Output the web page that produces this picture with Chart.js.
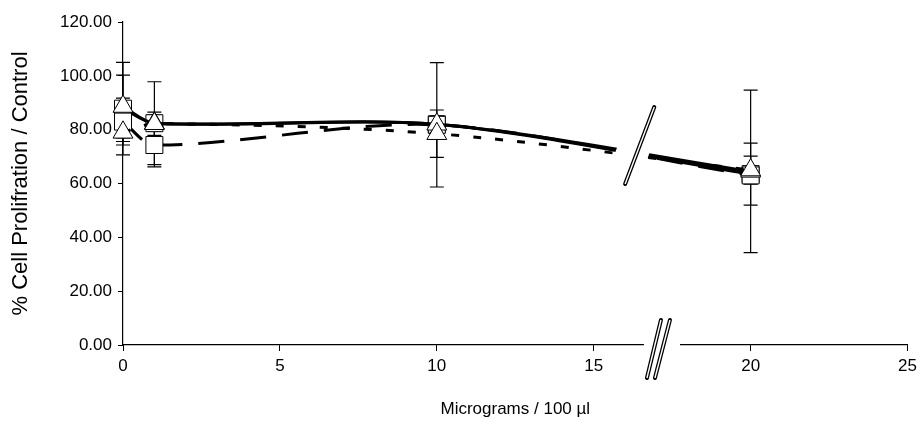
<!DOCTYPE html>
<html>
<head>
<meta charset="utf-8">
<script src="https://cdn.jsdelivr.net/npm/chart.js@4.4.0/dist/chart.umd.min.js"></script>
<style>
    html, body { margin: 0; padding: 0; background: #fff; }
    #wrap { width: 922px; height: 424px; }
</style>
</head>
<body>
<div id="wrap"><canvas id="chart" width="922" height="424"></canvas></div>
<script>
// Doses (x) and the four measured series, with their error values
const doses = [0, 1, 10, 20];
const xTicks = [0, 5, 10, 15, 20, 25];
const yTicks = [0, 20, 40, 60, 80, 100, 120];

const shortDashValues = [79.0, 82.2, 78.5, 65.0];
const shortDashErrors = [3.4, 4.3, 8.8, 5.2];
const solidTriValues = [88.6, 82.4, 82.0, 64.5];
const solidTriErrors = [11.7, 15.4, 3.0, 30.2];
const longDashValues = [83.0, 74.3, 81.8, 63.0];
const longDashErrors = [8.7, 8.1, 23.1, 3.0];
const solidSqValues = [87.8, 82.4, 82.0, 63.5];
const solidSqErrors = [17.2, 3.0, 3.0, 11.5];

// where the axis is broken (between 15 and 20)
const breakFrom = 15.7;
const breakTo = 16.8;

const FONT = 'Liberation Sans, Arial, sans-serif';

function points(values) {
    return values.map((v, i) => ({ x: doses[i], y: v }));
}

function series(label, values, errors, style, dash) {
    return {
        label: label,
        data: points(values),
        errors: errors,
        clip: false,
        borderColor: '#000',
        borderWidth: 3,
        borderDash: dash,
        tension: 0.3,
        pointStyle: style,
        pointRadius: style === 'rect' ? 12 : 11.5,
        pointBackgroundColor: '#fff',
        pointBorderColor: '#000',
        pointBorderWidth: 1,
        fill: false
    };
}

// Error bars drawn under the lines and markers
const errorBars = {
    id: 'errorBars',
    beforeDatasetsDraw(chart) {
        const { ctx, scales: { x, y } } = chart;
        ctx.save();
        ctx.strokeStyle = '#000';
        ctx.lineWidth = 1.2;
        chart.data.datasets.forEach(ds => {
            ds.data.forEach((p, i) => {
                const err = ds.errors[i];
                const px = x.getPixelForValue(p.x);
                const top = y.getPixelForValue(p.y + err);
                const bot = y.getPixelForValue(p.y - err);
                ctx.beginPath();
                ctx.moveTo(px, top); ctx.lineTo(px, bot);
                ctx.moveTo(px - 7, top); ctx.lineTo(px + 7, top);
                ctx.moveTo(px - 7, bot); ctx.lineTo(px + 7, bot);
                ctx.stroke();
            });
        });
        ctx.restore();
    }
};

function slash(ctx, x1, y1, x2, y2) {
    ctx.lineCap = 'round';
    ctx.strokeStyle = '#000';
    ctx.lineWidth = 4;
    ctx.beginPath(); ctx.moveTo(x1, y1); ctx.lineTo(x2, y2); ctx.stroke();
    ctx.lineCap = 'butt';
    ctx.strokeStyle = '#fff';
    ctx.lineWidth = 1.4;
    ctx.beginPath(); ctx.moveTo(x1, y1); ctx.lineTo(x2, y2); ctx.stroke();
}

// Break marks: gap in the curves and on the x axis
const axisBreak = {
    id: 'axisBreak',
    afterDatasetsDraw(chart) {
        const { ctx, scales: { x, y } } = chart;
        const bx = x.getPixelForValue(16.0), by = y.getPixelForValue(59.8);
        const tx = x.getPixelForValue(16.93), ty = y.getPixelForValue(88.4);
        const left = x.getPixelForValue(breakFrom), right = x.getPixelForValue(breakTo);
        const mid = (left + right) / 2;
        const half = (right - left) / 2;
        ctx.save();
        ctx.fillStyle = '#fff';
        const sx = (tx - bx) / (ty - by);
        const yc = y.getPixelForValue(72);
        const cx = bx + (yc - by) * sx;
        const shift = cx - mid;
        ctx.beginPath();
        ctx.moveTo(bx - half - shift, by);
        ctx.lineTo(tx - half - shift, ty);
        ctx.lineTo(tx + half - shift, ty);
        ctx.lineTo(bx + half - shift, by);
        ctx.closePath();
        ctx.fill();
        slash(ctx, bx, by, tx, ty);
        ctx.restore();
    },
    afterDraw(chart) {
        const { ctx, scales: { x, y } } = chart;
        const base = y.bottom;
        const gl = x.getPixelForValue(16.6), gr = x.getPixelForValue(17.75);
        ctx.save();
        ctx.fillStyle = '#fff';
        ctx.fillRect(gl, base - 3, gr - gl, 6);
        slash(ctx, gl + 3, base + 33, gl + 17, base - 25);
        slash(ctx, gl + 11, base + 33, gl + 26, base - 25);
        ctx.restore();
    }
};

new Chart(document.getElementById('chart'), {
    type: 'line',
    data: {
        datasets: [
            series('Short dash', shortDashValues, shortDashErrors, 'triangle', [8, 14]),
            series('Solid (triangles)', solidTriValues, solidTriErrors, 'triangle', []),
            series('Long dash', longDashValues, longDashErrors, 'rect', [26, 16]),
            series('Solid (squares)', solidSqValues, solidSqErrors, 'rect', [])
        ]
    },
    options: {
        responsive: false,
        animation: false,
        layout: { padding: { top: 22, right: 13, bottom: 0, left: 0 } },
        plugins: {
            legend: { display: false },
            tooltip: { enabled: false }
        },
        scales: {
            x: {
                type: 'linear',
                min: 0,
                max: 25,
                afterBuildTicks: axis => { axis.ticks = xTicks.map(v => ({ value: v })); },
                afterFit: axis => { axis.height = 79; },
                border: { color: '#000', width: 1.2 },
                grid: { drawOnChartArea: false, color: '#000', tickLength: 6 },
                ticks: { color: '#000', font: { family: FONT, size: 17 }, padding: 5 },
                title: {
                    display: true,
                    text: 'Micrograms / 100 µl',
                    color: '#000',
                    font: { family: FONT, size: 17 },
                    padding: { top: 18 }
                }
            },
            y: {
                min: 0,
                max: 120,
                afterBuildTicks: axis => { axis.ticks = yTicks.map(v => ({ value: v })); },
                afterFit: axis => { axis.width = 123; },
                border: { color: '#000', width: 1.2 },
                grid: { drawOnChartArea: false, color: '#000', tickLength: 5 },
                ticks: {
                    color: '#000',
                    font: { family: FONT, size: 17 },
                    padding: 6,
                    callback: v => v.toFixed(2)
                },
                title: {
                    display: true,
                    text: '% Cell Prolifration / Control',
                    color: '#000',
                    font: { family: FONT, size: 22 },
                    padding: { top: 8, bottom: 0 }
                }
            }
        }
    },
    plugins: [errorBars, axisBreak]
});
</script>
</body>
</html>
